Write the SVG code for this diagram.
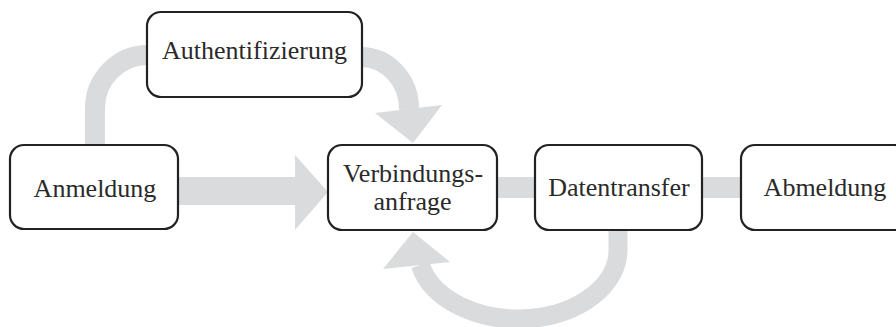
<svg xmlns="http://www.w3.org/2000/svg" width="896" height="327" viewBox="0 0 896 327">
<style>
.box{fill:#fff;stroke:#222;stroke-width:2.2}
.lbl{font-family:"Liberation Serif","DejaVu Serif",serif;font-size:26px;fill:#2a2a2a;text-anchor:middle}
.band{fill:none;stroke:#dadbdd;stroke-linecap:butt}
.fillg{fill:#dadbdd}
</style>
<rect width="896" height="327" fill="#fff"/>
<g id="connectors">
<rect class="fillg" x="178" y="177" width="118" height="28"/>
<polygon class="fillg" points="295,155 295,230 328,192"/>
<rect class="fillg" x="497" y="177" width="38" height="21"/>
<rect class="fillg" x="702" y="177" width="39" height="21"/>
<path class="band" stroke-width="20" d="M95 146 L95 108 A53 53 0 0 1 148 55"/>
<path class="band" stroke-width="20" d="M361 57 A48 52 0 0 1 409 110"/>
<polygon class="fillg" points="375,113 442,105 413,143"/>
<path class="band" stroke-width="19" d="M618 229 L618 250 A100 69 0 0 1 420.4 265"/>
<polygon class="fillg" points="383,269 450,262 413,232"/>
</g>
<g id="auth">
<rect class="box" x="147" y="12" width="215" height="85" rx="14"/>
<text class="lbl" x="254.5" y="59">Authentifizierung</text>
</g>
<g id="anmeldung">
<rect class="box" x="10" y="145" width="168" height="84" rx="14"/>
<text class="lbl" x="95" y="196.5">Anmeldung</text>
</g>
<g id="verbindung">
<rect class="box" x="328" y="145" width="169" height="85" rx="14"/>
<text class="lbl" x="413" y="182">Verbindungs-</text>
<text class="lbl" x="412.5" y="210">anfrage</text>
</g>
<g id="datentransfer">
<rect class="box" x="535" y="145" width="167" height="85" rx="14"/>
<text class="lbl" x="619" y="195.5">Datentransfer</text>
</g>
<g id="abmeldung">
<rect class="box" x="741" y="145" width="168" height="85" rx="14"/>
<text class="lbl" x="825" y="195.5">Abmeldung</text>
</g>
</svg>
